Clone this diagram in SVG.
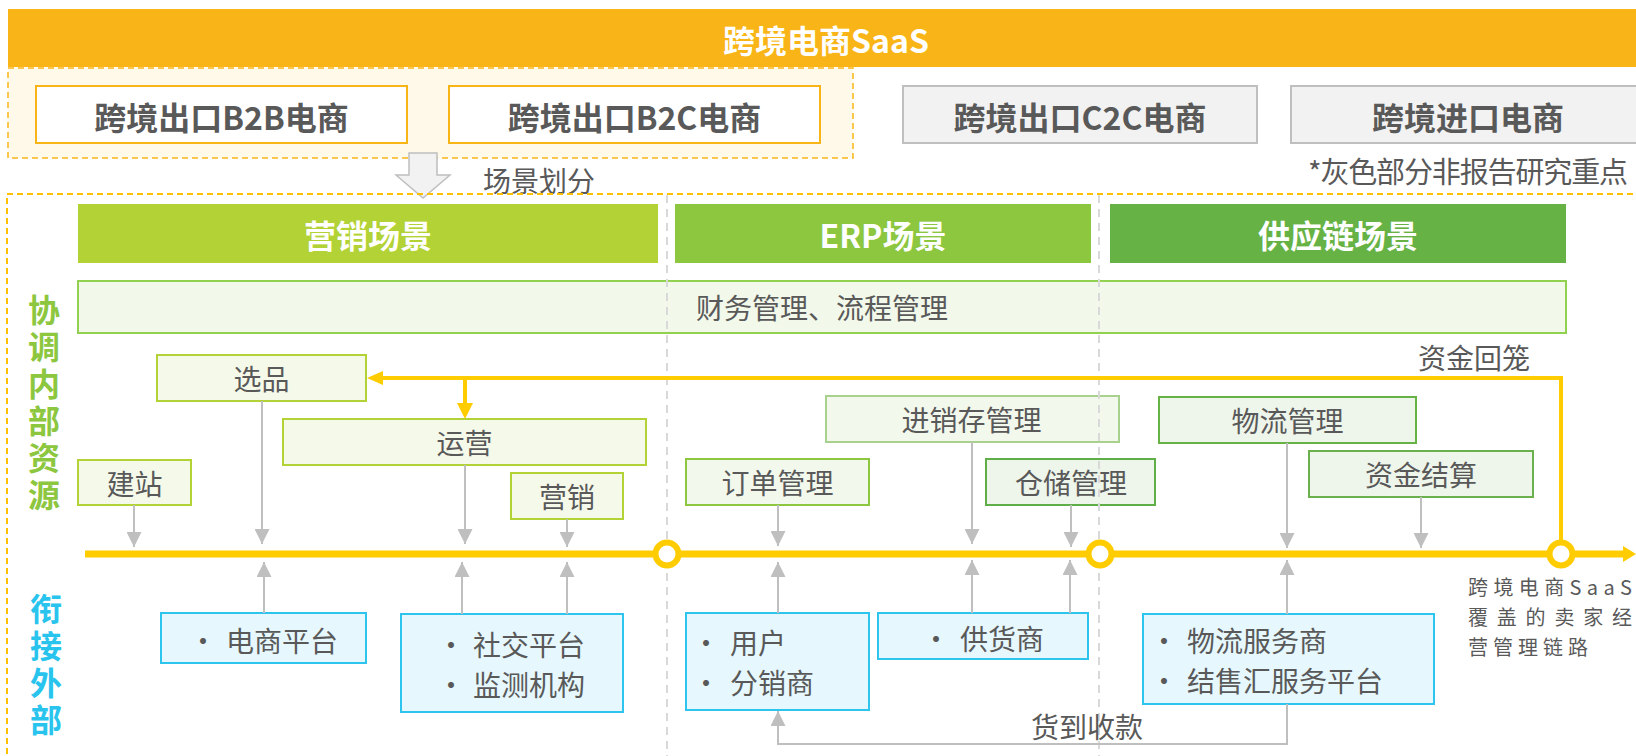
<svg xmlns="http://www.w3.org/2000/svg" width="1636" height="756" viewBox="0 0 1636 756">
<defs>
<style>
text{font-family:"Noto Sans CJK SC","Noto Sans",sans-serif;dominant-baseline:central;fill:#595959}
.t28{font-size:28px}
.hd{font-size:32px;font-weight:700}
.w{fill:#fff}
.c{text-anchor:middle}
.vt{font-size:32px;font-weight:700;writing-mode:vertical-rl;letter-spacing:5px}
.topbox{fill:#fff;stroke:#F9B517;stroke-width:2}
.graybox{fill:#F2F2F2;stroke:#BFBFBF;stroke-width:2}
.ib{fill:#F5F9EA;stroke-width:2}
.eb{fill:#E6F7FD;stroke:#2DC5EE;stroke-width:2}
.ga{stroke:#BFBFBF;stroke-width:2;fill:none;marker-end:url(#gh)}
.div{stroke:#D9D9D9;stroke-width:2;stroke-dasharray:8 6}
.ring{fill:#fff;stroke:#FFCC00;stroke-width:6}
</style>
<marker id="gh" markerUnits="userSpaceOnUse" markerWidth="15" markerHeight="15" viewBox="0 0 10 10" refX="10" refY="5" orient="auto">
<path d="M0,0 L10,5 L0,10 z" fill="#BFBFBF"/>
</marker>
</defs>
<rect width="1636" height="756" fill="#fff"/>

<g id="header">
<rect x="8" y="9" width="1628" height="58" fill="#F9B517"/>
<text class="hd w c" x="826" y="39">跨境电商SaaS</text>
</g>

<g id="scope-region">
<rect x="8" y="68" width="845" height="90" fill="#FFF9E9" stroke="#F9B517" stroke-width="1.5" stroke-dasharray="6 4"/>
</g>
<g id="b2b"><rect class="topbox" x="36" y="86" width="371" height="57"/><text class="hd c" x="221.5" y="116">跨境出口B2B电商</text></g>
<g id="b2c"><rect class="topbox" x="449" y="86" width="371" height="57"/><text class="hd c" x="634.5" y="116">跨境出口B2C电商</text></g>
<g id="c2c"><rect class="graybox" x="903" y="86" width="354" height="57"/><text class="hd c" x="1080" y="116">跨境出口C2C电商</text></g>
<g id="import"><rect class="graybox" x="1291" y="86" width="360" height="57"/><text class="hd c" x="1468" y="116">跨境进口电商</text></g>
<g id="note"><text style="font-size:29px" x="1308" y="170" textLength="320" lengthAdjust="spacing">*灰色部分非报告研究重点</text></g>

<g id="split-arrow">
<polygon points="409,153 437,153 437,175 450,175 423,198 396,175 409,175" fill="#F2F2F2" stroke="#BFBFBF" stroke-width="1.5"/>
<text class="t28" x="483" y="180">场景划分</text>
</g>

<g id="scene-region">
<rect x="7" y="194" width="1700" height="700" fill="none" stroke="#FFC000" stroke-width="2" stroke-dasharray="6 4"/>
</g>

<g id="scene-marketing"><rect x="78" y="204" width="580" height="59" fill="#B3D235"/><text class="hd w c" x="368" y="234">营销场景</text></g>
<g id="scene-erp"><rect x="675" y="204" width="416" height="59" fill="#8DC63F"/><text class="hd w c" x="883" y="234">ERP场景</text></g>
<g id="scene-supply"><rect x="1110" y="204" width="456" height="59" fill="#66B245"/><text class="hd w c" x="1338" y="234">供应链场景</text></g>

<g id="label-internal">
<text class="vt" style="fill:#8DC63F" x="44" y="294">协调内部资源</text>
</g>
<g id="label-external">
<text class="vt" style="fill:#29C4EE" x="46" y="593">衔接外部</text>
</g>

<g id="finance"><rect x="78" y="281" width="1488" height="52" fill="#F2F8EA" stroke="#92D050" stroke-width="2"/><text class="t28 c" x="822" y="307">财务管理、流程管理</text></g>

<g id="xuanpin"><rect class="ib" x="157" y="355" width="209" height="46" stroke="#B3D235"/><text class="t28 c" x="261.5" y="378">选品</text></g>
<g id="yunying"><rect class="ib" x="283" y="419" width="363" height="46" stroke="#B3D235"/><text class="t28 c" x="464.5" y="442">运营</text></g>
<g id="jianzhan"><rect class="ib" x="78" y="460" width="113" height="45" stroke="#B3D235"/><text class="t28 c" x="134.5" y="482.5">建站</text></g>
<g id="yingxiao"><rect class="ib" x="511" y="473" width="112" height="46" stroke="#B3D235"/><text class="t28 c" x="567" y="496">营销</text></g>
<g id="dingdan"><rect class="ib" x="686" y="459" width="183" height="46" stroke="#8DC63F" style="fill:#F3F8EC"/><text class="t28 c" x="777.5" y="482">订单管理</text></g>
<g id="jinxiaocun"><rect class="ib" x="826" y="396" width="293" height="46" stroke="#A9D18E" style="fill:#F3F8EC"/><text class="t28 c" x="971.5" y="419">进销存管理</text></g>
<g id="cangchu"><rect class="ib" x="986" y="459" width="169" height="46" stroke="#5FAE48" style="fill:#EEF5EA"/><text class="t28 c" x="1071" y="482">仓储管理</text></g>
<g id="wuliu"><rect class="ib" x="1159" y="397" width="257" height="46" stroke="#66B245" style="fill:#EEF5EA"/><text class="t28 c" x="1287.5" y="420">物流管理</text></g>
<g id="zijinjiesuan"><rect class="ib" x="1309" y="451" width="224" height="46" stroke="#6AB04C" style="fill:#EEF5EA"/><text class="t28 c" x="1421" y="474">资金结算</text></g>

<g id="ext-platform"><rect class="eb" x="161" y="613" width="205" height="50"/><text class="t28"><tspan x="189" y="640">•</tspan><tspan x="226" y="640">电商平台</tspan></text></g>
<g id="ext-social"><rect class="eb" x="401" y="614" width="222" height="98"/><text class="t28"><tspan x="437" y="644">•</tspan><tspan x="473" y="644">社交平台</tspan><tspan x="437" y="684">•</tspan><tspan x="473" y="684">监测机构</tspan></text></g>
<g id="ext-user"><rect class="eb" x="686" y="613" width="183" height="97"/><text class="t28"><tspan x="692" y="642">•</tspan><tspan x="730" y="642">用户</tspan><tspan x="692" y="682">•</tspan><tspan x="730" y="682">分销商</tspan></text></g>
<g id="ext-supplier"><rect class="eb" x="878" y="613" width="210" height="46"/><text class="t28"><tspan x="922" y="638">•</tspan><tspan x="960" y="638">供货商</tspan></text></g>
<g id="ext-logistics"><rect class="eb" x="1143" y="614" width="291" height="90"/><text class="t28"><tspan x="1150" y="640">•</tspan><tspan x="1187" y="640">物流服务商</tspan><tspan x="1150" y="680">•</tspan><tspan x="1187" y="680">结售汇服务平台</tspan></text></g>

<g id="dividers">
<line class="div" x1="667" y1="195" x2="667" y2="756"/>
<line class="div" x1="1099" y1="195" x2="1099" y2="756"/>
</g>

<g id="connectors">
<path d="M1561,541 V378 H381" fill="none" stroke="#FFCC00" stroke-width="4"/>
<polygon points="367,378 383,371 383,385" fill="#FFCC00"/>
<path d="M465,378 V405" fill="none" stroke="#FFCC00" stroke-width="4"/>
<polygon points="457,403 473,403 465,419" fill="#FFCC00"/>

<line x1="85" y1="554" x2="1626" y2="554" stroke="#FFCC00" stroke-width="7"/>
<polygon points="1623,546 1636,554 1623,562" fill="#FFCC00"/>

<line class="ga" x1="134" y1="505" x2="134" y2="547"/>
<line class="ga" x1="262" y1="401" x2="262" y2="544"/>
<line class="ga" x1="465" y1="465" x2="465" y2="544"/>
<line class="ga" x1="567" y1="519" x2="567" y2="547"/>
<line class="ga" x1="778" y1="505" x2="778" y2="546"/>
<line class="ga" x1="972" y1="442" x2="972" y2="544"/>
<line class="ga" x1="1071" y1="505" x2="1071" y2="547"/>
<line class="ga" x1="1287" y1="443" x2="1287" y2="548"/>
<line class="ga" x1="1421" y1="497" x2="1421" y2="548"/>

<line class="ga" x1="264" y1="613" x2="264" y2="562"/>
<line class="ga" x1="462" y1="614" x2="462" y2="562"/>
<line class="ga" x1="567" y1="614" x2="567" y2="562"/>
<line class="ga" x1="778" y1="613" x2="778" y2="562"/>
<line class="ga" x1="972" y1="613" x2="972" y2="560"/>
<line class="ga" x1="1070" y1="613" x2="1070" y2="560"/>
<line class="ga" x1="1287" y1="614" x2="1287" y2="560"/>

<path class="ga" d="M1287,704 V744 H778 V711"/>

<circle class="ring" cx="667" cy="554" r="11.5"/>
<circle class="ring" cx="1100" cy="554" r="11.5"/>
<circle class="ring" cx="1561" cy="554" r="11.5"/>

<text class="t28 c" x="1474" y="357">资金回笼</text>
<text class="t28 c" x="1087" y="726">货到收款</text>
</g>

<g id="chain-label">
<text style="font-size:20px" x="1468" y="586" textLength="164" lengthAdjust="spacing">跨境电商SaaS</text>
<text style="font-size:20px" x="1468" y="616" textLength="164" lengthAdjust="spacing">覆盖的卖家经</text>
<text style="font-size:20px" x="1468" y="646" textLength="120" lengthAdjust="spacing">营管理链路</text>
</g>
</svg>
